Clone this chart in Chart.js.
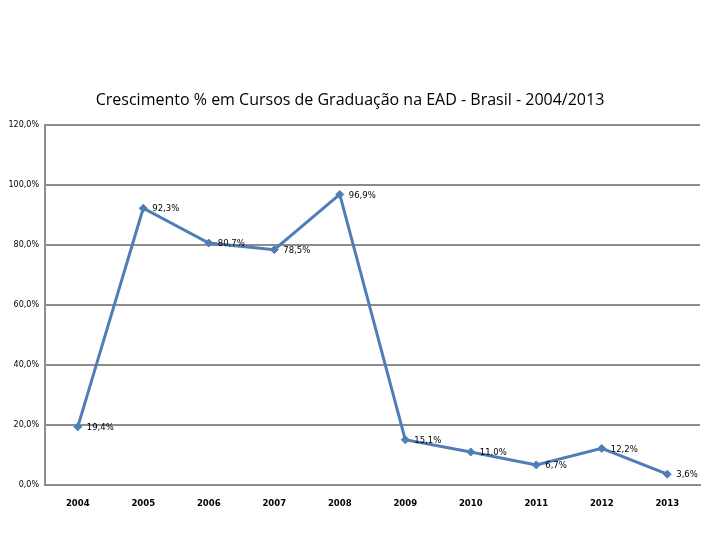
<!DOCTYPE html>
<html>
<head>
<meta charset="utf-8">
<script src="https://cdn.jsdelivr.net/npm/chart.js@4"></script>
<style>
    html, body { margin: 0; padding: 0; background: #fff; }
    #wrap { width: 720px; height: 540px; }
</style>
</head>
<body>
<div id="wrap"><canvas id="growth"></canvas></div>
<script>
const years = ['2004', '2005', '2006', '2007', '2008', '2009', '2010', '2011', '2012', '2013'];
const growth = [19.4, 92.3, 80.7, 78.5, 96.9, 15.1, 11.0, 6.7, 12.2, 3.6];
const yTicks = [0, 20, 40, 60, 80, 100, 120];

const lineColor = '#4F7EB7';
const gridColor = '#8C8C8C';

const fmt = (v, digits) => v.toFixed(digits).replace('.', ',') + '%';

// value labels to the right of each point
const pointLabels = {
    id: 'pointLabels',
    afterDatasetsDraw(chart) {
        const ctx = chart.ctx;
        const meta = chart.getDatasetMeta(0);
        ctx.save();
        ctx.font = '8.5px "DejaVu Sans"';
        ctx.fillStyle = '#000';
        ctx.textAlign = 'left';
        ctx.textBaseline = 'middle';
        meta.data.forEach((pt, i) => {
            ctx.fillText(fmt(growth[i], 1), pt.x + 9, pt.y + 1);
        });
        ctx.restore();
    }
};

new Chart(document.getElementById('growth'), {
    type: 'line',
    data: {
        labels: years,
        datasets: [
            {
                data: growth,
                borderColor: lineColor,
                backgroundColor: lineColor,
                borderWidth: 3,
                pointStyle: 'rectRot',
                pointRadius: 4,
                pointBorderWidth: 1,
                tension: 0
            }
        ]
    },
    options: {
        responsive: true,
        maintainAspectRatio: false,
        animation: false,
        layout: {
            padding: { top: 0, right: 20, bottom: 0, left: 0 }
        },
        plugins: {
            legend: { display: false },
            tooltip: { enabled: false },
            title: {
                display: true,
                text: 'Crescimento % em Cursos de Graduação na EAD - Brasil - 2004/2013',
                color: '#000',
                font: { family: '"Open Sans"', size: 16, weight: 'normal', lineHeight: 1.2 },
                padding: { top: 91, bottom: 15 }
            }
        },
        scales: {
            x: {
                offset: true,
                grid: { display: false },
                border: { display: true, color: gridColor, width: 2 },
                ticks: {
                    color: '#000',
                    font: { family: '"DejaVu Sans"', size: 8.5, weight: 'bold' },
                    padding: 6,
                    maxRotation: 0
                },
                afterFit: (axis) => { axis.height = 55; }
            },
            y: {
                min: 0,
                max: 120,
                afterBuildTicks: (axis) => {
                    axis.ticks = yTicks.map(v => ({ value: v }));
                },
                grid: {
                    color: gridColor,
                    lineWidth: 2,
                    drawTicks: false
                },
                border: { display: true, color: gridColor, width: 2 },
                ticks: {
                    color: '#000',
                    font: { family: '"DejaVu Sans"', size: 8 },
                    padding: 6,
                    callback: (v) => fmt(v, 1)
                },
                afterFit: (axis) => { axis.width = 45; }
            }
        }
    },
    plugins: [pointLabels]
});
</script>
</body>
</html>
